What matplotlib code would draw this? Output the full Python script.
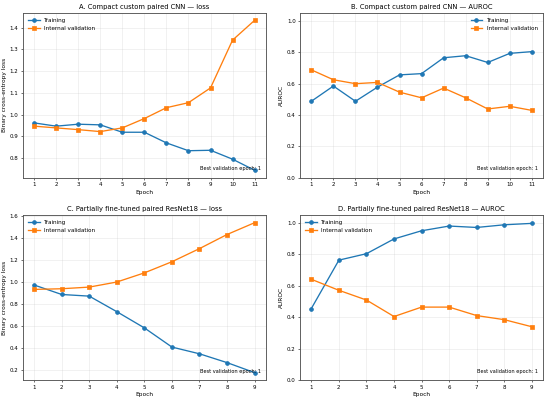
import matplotlib
matplotlib.use("Agg")
import matplotlib.pyplot as plt

epochs_a = list(range(1, 12))
epochs_c = list(range(1, 10))

a_train = [0.962, 0.947, 0.956, 0.953, 0.919, 0.919, 0.870, 0.834, 0.836, 0.795, 0.744]
a_val = [0.947, 0.939, 0.931, 0.922, 0.939, 0.982, 1.032, 1.055, 1.123, 1.343, 1.434]

b_train = [0.487, 0.584, 0.487, 0.577, 0.655, 0.663, 0.764, 0.777, 0.734, 0.792, 0.803]
b_val = [0.687, 0.624, 0.599, 0.607, 0.545, 0.509, 0.571, 0.509, 0.438, 0.455, 0.429]

c_train = [0.974, 0.888, 0.873, 0.732, 0.585, 0.411, 0.350, 0.270, 0.179]
c_val = [0.934, 0.940, 0.955, 1.001, 1.084, 1.185, 1.304, 1.432, 1.539]

d_train = [0.456, 0.764, 0.805, 0.899, 0.951, 0.981, 0.972, 0.989, 0.998]
d_val = [0.642, 0.572, 0.510, 0.405, 0.465, 0.465, 0.411, 0.385, 0.340]

titles = [
    "A. Compact custom paired CNN \u2014 loss",
    "B. Compact custom paired CNN \u2014 AUROC",
    "C. Partially fine-tuned paired ResNet18 \u2014 loss",
    "D. Partially fine-tuned paired ResNet18 \u2014 AUROC",
]
ylabels = ["Binary cross-entropy loss", "AUROC", "Binary cross-entropy loss", "AUROC"]
legend_locs = ["upper left", "upper right", "upper left", "upper left"]
annotation = "Best validation epoch: 1"

fig, axes = plt.subplots(2, 2, figsize=(11, 8.02), dpi=50)
fig.subplots_adjust(left=0.042, right=0.987, top=0.968, bottom=0.052, wspace=0.143, hspace=0.227)

data = [
    (epochs_a, a_train, a_val),
    (epochs_a, b_train, b_val),
    (epochs_c, c_train, c_val),
    (epochs_c, d_train, d_val),
]

for i, ax in enumerate(axes.flat):
    ep, tr, va = data[i]
    ax.plot(ep, tr, marker="o", color="#1f77b4", lw=1.9, ms=5.5, label="Training")
    ax.plot(ep, va, marker="s", color="#ff7f0e", lw=1.9, ms=5.5, label="Internal validation")
    ax.set_title(titles[i], fontsize=9.8)
    ax.set_xlabel("Epoch", fontsize=8.5)
    ax.set_ylabel(ylabels[i], fontsize=8.5)
    ax.set_xticks(ep)
    ax.tick_params(labelsize=8, length=3)
    ax.grid(True, alpha=0.3)
    if i in (1, 3):
        ax.set_ylim(0, 1.05)
    ax.legend(loc=legend_locs[i], fontsize=8.2, frameon=False)
    ax.text(0.98, 0.04, annotation, transform=ax.transAxes, ha="right", va="bottom", fontsize=7.2)
    for s in ax.spines.values():
        s.set_color("#555555")
        s.set_linewidth(1.3)

fig.savefig("out.png")
